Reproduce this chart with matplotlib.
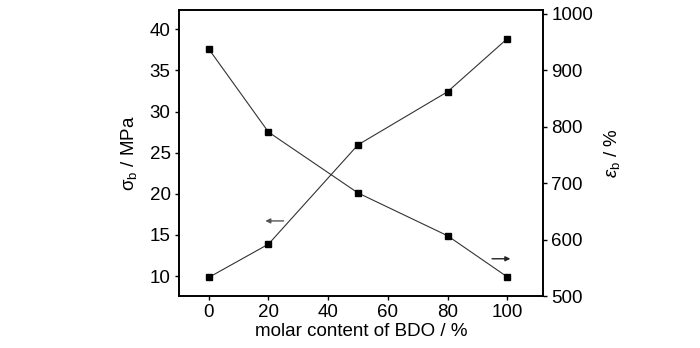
import matplotlib
matplotlib.use('Agg')
import matplotlib.pyplot as plt

# datos
bdo = [0, 20, 50, 80, 100]
sigma_b = [37.6, 27.5, 20.1, 14.9, 9.9]
eps_b = [533, 592, 768, 862, 956]

plt.rcParams['font.family'] = ['Liberation Sans', 'DejaVu Sans']
plt.rcParams['mathtext.fontset'] = 'custom'
plt.rcParams['mathtext.rm'] = 'Liberation Sans'
plt.rcParams['mathtext.it'] = 'Liberation Sans:italic'
fs = 13.5

fig = plt.figure(figsize=(7, 3.48), dpi=100)
ax1 = fig.add_axes([0.2557, 0.1494, 0.52, 0.8219])
ax2 = ax1.twinx()

ax1.plot(bdo, sigma_b, color='#333333', lw=0.8, marker='s', ms=4.5,
         mfc='black', mec='black')
ax2.plot(bdo, eps_b, color='#333333', lw=0.8, marker='s', ms=4.5,
         mfc='black', mec='black')

ax1.set_xlim(-10, 112)
ax1.set_ylim(7.57, 42.35)
ax2.set_ylim(500, 1007)
ax1.set_xticks([0, 20, 40, 60, 80, 100])
ax1.set_yticks([10, 15, 20, 25, 30, 35, 40])
ax2.set_yticks([500, 600, 700, 800, 900, 1000])

for ax in (ax1, ax2):
    ax.tick_params(labelsize=fs, direction='out', length=3, width=1, pad=3)
    for s in ax.spines.values():
        s.set_linewidth(1.2)

ax1.set_xlabel('molar content of BDO / %', fontsize=fs, labelpad=1)
ax1.set_ylabel('σ$_{\\rm b}$ / MPa', fontsize=fs, labelpad=8)
ax2.set_ylabel('$\\varepsilon_{\\rm b}$ / %', fontsize=fs, labelpad=6)

# flechas que indican el eje
ax1.annotate('', xy=(18, 16.7), xytext=(26, 16.7),
             arrowprops=dict(arrowstyle='-|>', color='#555555', lw=1,
                             mutation_scale=7))
ax2.annotate('', xy=(102, 566), xytext=(94, 566),
             arrowprops=dict(arrowstyle='-|>', color='#222222', lw=1,
                             mutation_scale=7))

fig.savefig('out.png', dpi=100)
